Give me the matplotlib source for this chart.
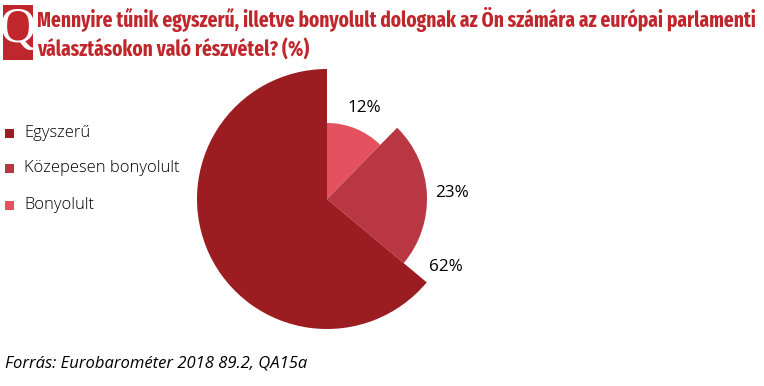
import matplotlib
matplotlib.use("Agg")
import matplotlib.pyplot as plt
import numpy as np
from matplotlib.patches import Rectangle

categories = ["Egyszerű", "Közepesen bonyolult", "Bonyolult"]
values = [62, 23, 12]
colors = ["#9B1C21", "#B93743", "#E5525F"]
radii = [130, 100, 76]

title_lines = ["Mennyire tűnik egyszerű, illetve bonyolult dolognak az Ön számára az európai parlamenti",
               "választásokon való részvétel? (%)"]
source = "Forrás: Eurobarométer 2018 89.2, QA15a"

W, H = 764, 386
fig = plt.figure(figsize=(W / 100, H / 100), dpi=100)
ax = fig.add_axes([0, 0, 1, 1])

cx, cy = 327, H - 199
order = [2, 1, 0]
wedges, _ = ax.pie([values[i] for i in order], colors=[colors[i] for i in order],
                   startangle=90, counterclock=False, center=(cx, cy), radius=130,
                   frame=True, wedgeprops=dict(linewidth=0))
for w, i in zip(wedges, order):
    w.set_radius(radii[i])
ax.set_xlim(0, W)
ax.set_ylim(0, H)
ax.set_aspect("equal")
ax.axis("off")

lab_kw = dict(ha="center", va="center", fontsize=12.3, family="Open Sans",
              color="#000000")
total = sum(values)
start = 90.0
for i in order:
    span = 360.0 * values[i] / total
    end = start - span
    if i == 0:
        ang = np.deg2rad(start + 10)
        d = 137
    else:
        ang = np.deg2rad((start + end) / 2)
        d = radii[i] * (1.3 if i == 2 else 1.25)
    ax.text(cx + d * np.cos(ang), cy + d * np.sin(ang), f"{values[i]}%", **lab_kw)
    start = end

ax.add_patch(Rectangle((3, H - 60), 30, 55, color="#C0272D", lw=0))
ax.text(18, H - 30, "Q", color="white", fontsize=36, ha="center", va="center",
        family="Liberation Serif")

tkw = dict(color="#C0272D", fontweight="bold", va="center", ha="left",
           family="Fira Sans Extra Condensed")
t1 = fig.text(37 / W, 1 - 19 / H, title_lines[0], fontsize=15.5, **tkw)
fig.canvas.draw()
r = fig.canvas.get_renderer()
w1 = t1.get_window_extent(r).width
fs = 15.5 * 718 / w1
t1.set_fontsize(fs)
fig.text(37 / W, 1 - 50 / H, title_lines[1], fontsize=fs, **tkw)

leg_y = [133, 168, 205]
for i in range(3):
    ax.add_patch(Rectangle((5, H - leg_y[i] - 4.5), 9, 9, color=colors[i], lw=0))
    ax.text(24, H - leg_y[i], categories[i], fontsize=11.9, family="Open Sans",
            fontweight="light", color="#000000", va="center", ha="left")

fig.text(5 / W, 1 - 363 / H, source, fontsize=12, style="italic", family="Open Sans",
         color="#000000", va="center", ha="left")

fig.savefig("out.png", dpi=100)
